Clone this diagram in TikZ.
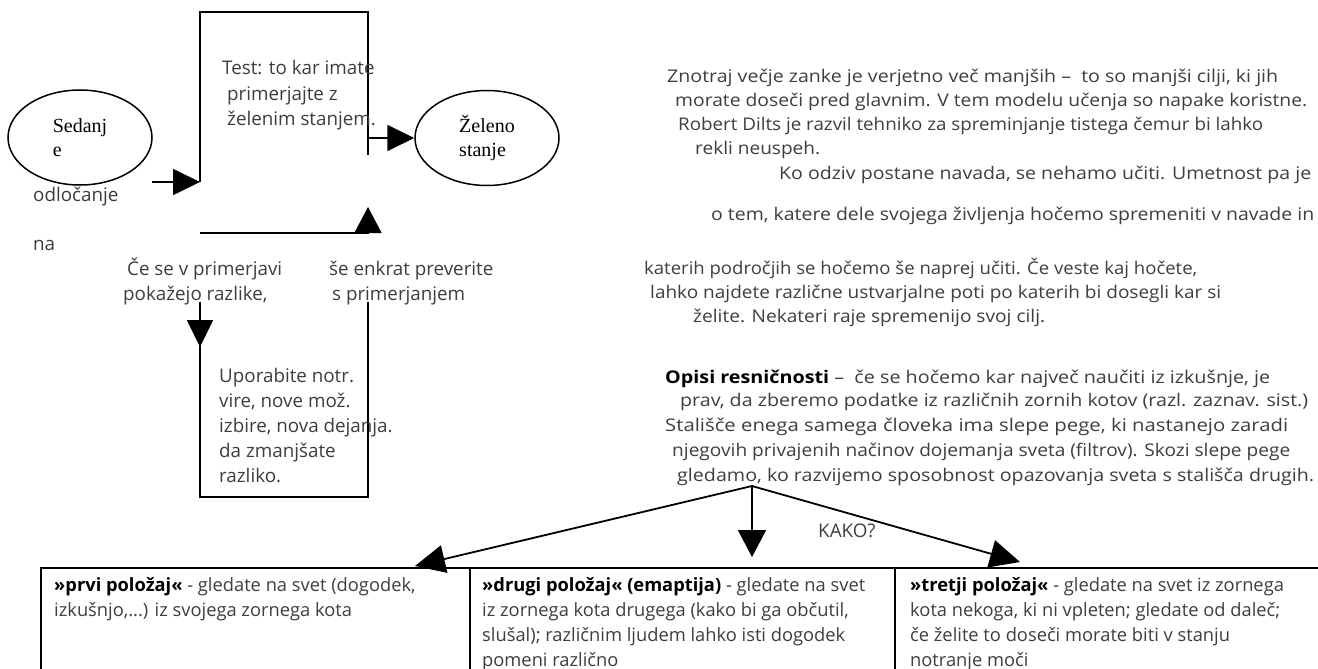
\documentclass[tikz,border=0pt]{standalone}
\usepackage{fontspec}
\usepackage{graphicx}
\setmainfont{Open Sans}
\newfontfamily\tmsfont{Liberation Serif}
\usetikzlibrary{arrows.meta,shapes.geometric}
\definecolor{txt}{RGB}{62,62,62}
\newcommand{\rl}[5]{\node[rtxt] (#1) at (#2,#3) {\resizebox{#4pt}{\height}{#5}};}
\tikzset{
  conn/.style={line width=1.8pt,draw=black},
  tipA/.style={-{Triangle[length=27pt,width=26pt]}},
  tipB/.style={-{Triangle[length=30pt,width=28pt]}},
  stbox/.style={draw,ellipse,line width=1.5pt,minimum width=144pt,minimum height=95pt,inner sep=0pt,
    font=\tmsfont\fontsize{20}{24}\selectfont,align=left},
  ltxt/.style={anchor=base west,inner sep=0pt,text=txt,font=\fontsize{18.8}{25}\selectfont},
  rtxt/.style={anchor=base west,inner sep=0pt,text=txt,font=\fontsize{17.5}{24}\selectfont},
  ctxt/.style={anchor=base west,inner sep=0pt,text=txt,font=\fontsize{18.3}{25}\selectfont},
}
\begin{document}
\begin{tikzpicture}[x=1pt,y=-1pt]
\useasboundingbox (0,0) rectangle (1318,669);
\fill[white] (0,0) rectangle (1318,669);

% ellipses
\node[stbox] (sed) at (80,137.5) {Sedanj\\e};
\node[stbox] (zel) at (487,138) {Želeno\\stanje};

% coordinates of the loops
\coordinate (s0) at (152,182);
\coordinate (A) at (200,182);
\coordinate (B) at (200,12);
\coordinate (C) at (368,12);
\coordinate (D) at (368,155);
\coordinate (E) at (368,138);
\coordinate (F) at (200,233);
\coordinate (G) at (368,233);
\coordinate (H) at (368,207);
\coordinate (I) at (200,302);
\coordinate (J) at (200,497);
\coordinate (K) at (368,497);
\coordinate (L) at (368,302);
\coordinate (M) at (200,347);

\draw[conn,tipA] (s0) -- (A);
\draw[conn] (A) -- (B) -- (C) -- (D);
\draw[conn,tipA] (E) -- (zel);
\draw[conn] (F) -- (G);
\draw[conn,-{Triangle[length=26pt,width=27pt]}] (G) -- (H);
\draw[conn] (I) -- (J) -- (K) -- (L);
\draw[conn,tipA] (I) -- (M);

% left texts
\node[ltxt] (t1) at (222,75) {Test: to kar imate};
\node[ltxt] (t2) at (227,100) {primerjajte z};
\node[ltxt] (t3) at (227,125) {želenim stanjem.};
\node[ltxt] (od) at (33,201) {odločanje};
\node[ltxt] (na) at (33,250) {na};
\node[ltxt] (c1) at (127,275) {Če se v primerjavi};
\node[ltxt] (c2) at (123,300) {pokažejo razlike,};
\node[ltxt] (s1) at (329,275) {še enkrat preverite};
\node[ltxt] (s2) at (332,300) {s primerjanjem};
\node[ltxt] (u1) at (219,382) {Uporabite notr.};
\node[ltxt] (u2) at (219,407) {vire, nove mož.};
\node[ltxt] (u3) at (219,432) {izbire, nova dejanja.};
\node[ltxt] (u4) at (219,457) {da zmanjšate};
\node[ltxt] (u5) at (219,482) {razliko.};

% right text block
\rl{r1}{667}{82}{611}{Znotraj večje zanke je verjetno več manjših –\ \ to so manjši cilji, ki jih}
\rl{r2}{675}{106}{632}{morate doseči pred glavnim. V tem modelu učenja so napake koristne.}
\rl{r3}{678}{130}{585}{Robert Dilts je razvil tehniko za spreminjanje tistega čemur bi lahko}
\rl{r4}{695}{154}{125}{rekli neuspeh.}
\rl{r5}{779}{179}{532}{Ko odziv postane navada, se nehamo učiti. Umetnost pa je}
\rl{r6}{711}{220}{603}{o tem, katere dele svojega življenja hočemo spremeniti v navade in}
\rl{r7}{644}{274}{553}{katerih področjih se hočemo še naprej učiti. Če veste kaj hočete,}
\rl{r8}{650}{298}{571}{lahko najdete različne ustvarjalne poti po katerih bi dosegli kar si}
\rl{r9}{693}{322}{352}{želite. Nekateri raje spremenijo svoj cilj.}
\rl{r10}{665}{383}{605}{\textbf{\color{black}Opisi resničnosti} –\ \ če se hočemo kar največ naučiti iz izkušnje, je}
\rl{r11}{680}{406}{628}{prav, da zberemo podatke iz različnih zornih kotov (razl. zaznav. sist.)}
\rl{r12}{665}{431}{623}{Stališče enega samega človeka ima slepe pege, ki nastanejo zaradi}
\rl{r13}{672}{456}{618}{njegovih privajenih načinov dojemanja sveta (filtrov). Skozi slepe pege}
\rl{r14}{677}{481}{637}{gledamo, ko razvijemo sposobnost opazovanja sveta s stališča drugih.}

% bottom arrows
\coordinate (P) at (752,486);
\coordinate (T1) at (415,566);
\coordinate (T2) at (752,557);
\coordinate (T3) at (1020,562);
\draw[conn,tipB] (P) -- (T1);
\draw[conn,-{Triangle[length=27pt,width=28pt]}] (P) -- (T2);
\draw[conn,tipB] (P) -- (T3);
\node[ltxt] (kako) at (818,537) {KAKO?};

% table
\coordinate (tl) at (41,568);
\coordinate (bl) at (41,669);
\coordinate (tr) at (1318,568);
\draw[conn] (bl) -- (tl) -- (tr);
\draw[conn] (470,568) -- (470,669);
\draw[conn] (895,568) -- (895,669);

\node[ctxt] (a1) at (54,591) {\textbf{\color{black}»prvi položaj«} - gledate na svet (dogodek,};
\node[ctxt] (a2) at (54,616) {izkušnjo,...) iz svojega zornega kota};
\node[ctxt] (b1) at (482,591) {\textbf{\color{black}»drugi položaj« (emaptija)} - gledate na svet};
\node[ctxt] (b2) at (482,616) {iz zornega kota drugega (kako bi ga občutil,};
\node[ctxt] (b3) at (482,641) {slušal); različnim ljudem lahko isti dogodek};
\node[ctxt] (b4) at (482,666) {pomeni različno};
\node[ctxt] (d1) at (910,591) {\textbf{\color{black}»tretji položaj«} - gledate na svet iz zornega};
\node[ctxt] (d2) at (910,616) {kota nekoga, ki ni vpleten; gledate od daleč;};
\node[ctxt] (d3) at (910,641) {če želite to doseči morate biti v stanju};
\node[ctxt] (d4) at (910,666) {notranje moči};
\end{tikzpicture}
\end{document}
